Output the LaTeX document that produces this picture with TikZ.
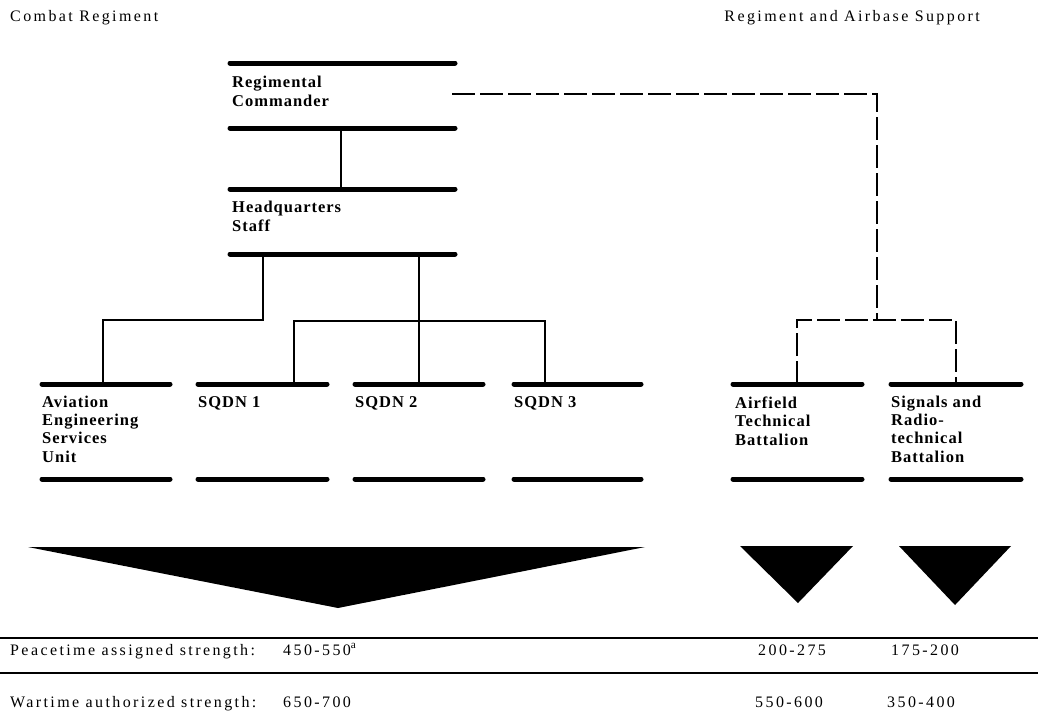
\documentclass[tikz,border=0pt]{standalone}
\usepackage{fontspec}
\newfontfamily\plainfont[LetterSpace=15]{Liberation Serif}
\newfontfamily\lblfont[LetterSpace=6]{Liberation Serif}
\begin{document}
\begin{tikzpicture}[x=1pt,y=-1pt,
  bar/.style={line width=5pt, line cap=round},
  conn/.style={line width=2pt},
  dconn/.style={line width=2pt, dash pattern=on 23pt off 5pt},
  rule/.style={line width=1.1pt},
  lbl/.style={anchor=base west, inner sep=0pt, align=left,
     font={\lblfont\bfseries\fontsize{16.5}{18.2}\selectfont}},
  txt/.style={anchor=base west, inner sep=0pt,
     font={\plainfont\fontsize{16}{18}\selectfont}},
  tri/.style={fill=black}]
\useasboundingbox (0,0) rectangle (1038,721);

% headers
\node[txt] (hdL) at (10,21) {Combat Regiment};
\node[txt, anchor=base east] (hdR) at (980,21) {Regiment and Airbase Support};

% unit bars
\newcommand\orgunit[5]{%
  \coordinate (#1-tl) at (#2,#4); \coordinate (#1-tr) at (#3,#4);
  \coordinate (#1-bl) at (#2,#5); \coordinate (#1-br) at (#3,#5);
  \draw[bar] (#1-tl) -- (#1-tr);
  \draw[bar] (#1-bl) -- (#1-br);}
\orgunit{rc}{230}{455}{63}{128}
\orgunit{hq}{230}{455}{189}{254}
\orgunit{ae}{42}{170}{384}{479}
\orgunit{sa}{198}{327}{384}{479}
\orgunit{sb}{355}{483}{384}{479}
\orgunit{sc}{514}{641}{384}{479}
\orgunit{af}{733}{862}{384}{479}
\orgunit{sg}{891}{1021}{384}{479}

% labels (anchor = baseline of the last line)
\node[lbl] (rcL) at (232,106) {Regimental\\Commander};
\node[lbl] (hqL) at (232,231) {Headquarters\\Staff};
\node[lbl] (aeL) at (42,462) {Aviation\\Engineering\\Services\\Unit};
\node[lbl] (saL) at (198,407) {SQDN 1};
\node[lbl] (sbL) at (355,407) {SQDN 2};
\node[lbl] (scL) at (514,407) {SQDN 3};
\node[lbl] (afL) at (735,445) {Airfield\\Technical\\Battalion};
\node[lbl] (sgL) at (891,462) {Signals and\\Radio-\\technical\\Battalion};

% solid connectors
\coordinate (rcD) at (341,128); \coordinate (hqU) at (341,189);
\draw[conn] (rcD) -- (hqU);
\coordinate (hqD1) at (263,254); \coordinate (hqD2) at (419,254);
\coordinate (aeU) at (103,384); \coordinate (saU) at (294,384);
\coordinate (sbU) at (419,384); \coordinate (scU) at (545,384);
\coordinate (j1) at (263,320);
\coordinate (j2) at (294,321); \coordinate (j3) at (545,321);
\draw[conn] (hqD1) -- (j1) -| (aeU);
\draw[conn] (hqD2) -- (sbU);
\draw[conn] (saU) -- (j2) -- (j3) -- (scU);

% dashed connectors
\coordinate (rcR) at (452,94); \coordinate (d1) at (877,94);
\coordinate (d2) at (877,320);
\coordinate (afU) at (797,384); \coordinate (sgU) at (956,384);
\draw[dconn] (rcR) -- (d1) -- (d2);
\draw[dconn] (afU) |- (d2) -| (sgU);

% strength triangles
\fill[tri] (28,547) -- (645,547) -- (338,608) -- cycle;
\fill[tri] (740,546) -- (853,546) -- (798,603) -- cycle;
\fill[tri] (899,546) -- (1011,546) -- (955,605) -- cycle;

% table
\coordinate (r1a) at (0,638); \coordinate (r1b) at (1038,638);
\coordinate (r2a) at (0,673); \coordinate (r2b) at (1038,673);
\draw[rule] (r1a) -- (r1b);
\draw[rule] (r2a) -- (r2b);
\node[txt] (pL) at (10,655) {Peacetime assigned strength:};
\node[txt] (pA) at (283,655) {450-550\textsuperscript{a}};
\node[txt] (pB) at (758,655) {200-275};
\node[txt] (pC) at (891,655) {175-200};
\node[txt] (wL) at (10,707) {Wartime authorized strength:};
\node[txt] (wA) at (283,707) {650-700};
\node[txt] (wB) at (755,707) {550-600};
\node[txt] (wC) at (887,707) {350-400};
\end{tikzpicture}
\end{document}
